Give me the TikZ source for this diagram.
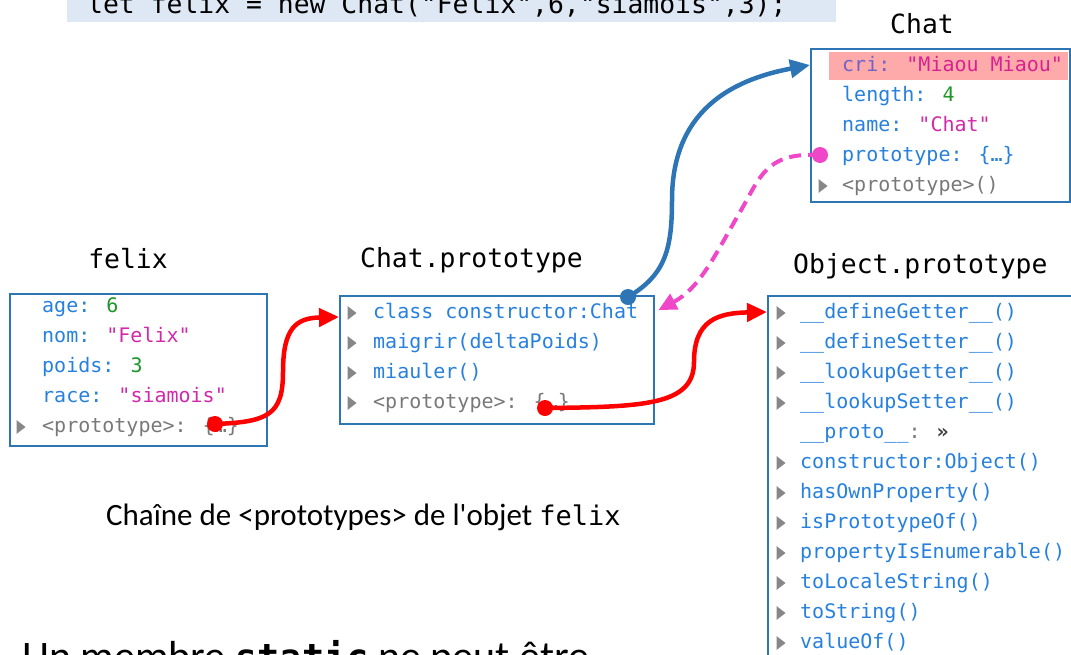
\documentclass[tikz,border=0pt]{standalone}
\usepackage{fontspec}
\setmainfont{Carlito}
\newfontfamily\codefont{DejaVu Sans Mono}
\usetikzlibrary{arrows.meta}

\definecolor{boxblue}{RGB}{46,117,182}
\definecolor{keyblue}{RGB}{38,128,222}
\definecolor{strpink}{RGB}{210,40,170}
\definecolor{numgreen}{RGB}{30,150,40}
\definecolor{protogray}{RGB}{120,120,120}
\definecolor{trigray}{RGB}{135,135,135}
\definecolor{codebg}{RGB}{222,232,244}
\definecolor{hlred}{RGB}{255,170,170}
\definecolor{crikey}{RGB}{110,100,200}
\definecolor{linkred}{RGB}{255,0,0}
\definecolor{linkpink}{RGB}{240,70,200}

\newcommand{\jskey}[1]{\textcolor{keyblue}{#1}}
\newcommand{\jsstr}[1]{\textcolor{strpink}{#1}}
\newcommand{\jsnum}[1]{\textcolor{numgreen}{#1}}
\newcommand{\jsgray}[1]{\textcolor{protogray}{#1}}
% little grey triangle in front of a row
\newcommand{\expander}[2]{\fill[trigray] (#1-4.5,#2-7) -- (#1+4.5,#2) -- (#1-4.5,#2+7) -- cycle;}

\tikzset{
	objbox/.style={draw=boxblue, line width=1.5pt, anchor=north west, inner sep=0pt},
	rowtxt/.style={anchor=base west, inner sep=0pt, font=\codefont\fontsize{20}{20}\selectfont},
	objname/.style={inner sep=0pt, font=\codefont\fontsize{26.4}{26}\selectfont},
	link/.style={line width=4.5pt, -{Triangle[length=20pt,width=18pt]}},
}

\begin{document}
\begin{tikzpicture}[x=1pt, y=-1pt]
	\useasboundingbox (0,0) rectangle (1071,654);
	\clip (0,0) rectangle (1071,654);

	% code line
	\fill[codebg] (67,-40) rectangle (836,22);
	\node[objname, anchor=base west] (code) at (87,13) {let felix = new Chat("Felix",6,"siamois",3);};

	% titles
	\node[objname, anchor=base] (felixname) at (128,268) {felix};
	\node[objname, anchor=base west] (cpname) at (360,267) {Chat.prototype};
	\node[objname, anchor=base west] (opname) at (793,273) {Object.prototype};
	\node[objname, anchor=base] (chatname) at (922,33) {Chat};

	% boxes
	\node[objbox, minimum width=257, minimum height=152] (fxbox) at (9,293) {};
	\node[objbox, minimum width=314, minimum height=128] (cpbox) at (339,295) {};
	\node[objbox, minimum width=259, minimum height=153] (chatbox) at (810,48) {};
	\node[objbox, minimum width=340, minimum height=420] (opbox) at (767,295) {};

	% felix
	\node[rowtxt] (fx1) at (42,312) {\jskey{age:} \jsnum{6}};
	\node[rowtxt] (fx2) at (42,342) {\jskey{nom:} \jsstr{"Felix"}};
	\node[rowtxt] (fx3) at (42,372) {\jskey{poids:} \jsnum{3}};
	\node[rowtxt] (fx4) at (42,402) {\jskey{race:} \jsstr{"siamois"}};
	\node[rowtxt] (fx5) at (42,432) {\jsgray{<prototype>: \{…\}}};
	\expander{21}{427}

	% Chat.prototype
	\node[rowtxt] (cp1) at (373,318) {\jskey{class constructor:Chat}};
	\node[rowtxt] (cp2) at (373,348) {\jskey{maigrir(deltaPoids)}};
	\node[rowtxt] (cp3) at (373,378) {\jskey{miauler()}};
	\node[rowtxt] (cp4) at (373,408) {\jsgray{<prototype>: \{…\}}};
	\foreach \i in {0,...,3}{\expander{352}{313+30*\i}}

	% Chat
	\fill[hlred] (829,52) rectangle (1068,80);
	\node[rowtxt] (ch1) at (842,71) {\textcolor{crikey}{cri:} \textcolor{strpink!85!red}{"Miaou Miaou"}};
	\node[rowtxt] (ch2) at (842,101) {\jskey{length:} \jsnum{4}};
	\node[rowtxt] (ch3) at (842,131) {\jskey{name:} \jsstr{"Chat"}};
	\node[rowtxt] (ch4) at (842,161) {\jskey{prototype: \{…\}}};
	\node[rowtxt] (ch5) at (842,191) {\jsgray{<prototype>()}};
	\expander{823}{186}

	% Object.prototype
	\foreach \txt [count=\i from 0] in {\_\_defineGetter\_\_(),\_\_defineSetter\_\_(),\_\_lookupGetter\_\_(),\_\_lookupSetter\_\_()}{
		\node[rowtxt] (op\i) at (800,318+30*\i) {\jskey{\txt}};
		\expander{781}{313+30*\i}
	}
	\node[rowtxt] (op4) at (800,438) {\jskey{\_\_proto\_\_}\jsgray{: }\textbf{\textcolor{darkgray}{»}}};
	\foreach \txt [count=\i from 5] in {constructor:Object(),hasOwnProperty(),isPrototypeOf(),propertyIsEnumerable(),toLocaleString(),toString(),valueOf()}{
		\node[rowtxt] (op\i) at (800,318+30*\i) {\jskey{\txt}};
		\expander{781}{313+30*\i}
	}

	% links
	\coordinate (fxlink) at (215,424);
	\coordinate (cplink) at (545,408);
	\coordinate (ctorlink) at (628,297);
	\coordinate (protolink) at (820,155);
	\coordinate (cpin) at ([yshift=-22pt]cpbox.north west);
	\coordinate (opin) at ([yshift=-17pt]opbox.north west);
	\coordinate (chatin) at ([yshift=-17pt]chatbox.north west);
	\coordinate (cpback) at ([xshift=4pt,yshift=-15pt]cpbox.north east);

	\draw[link, linkred] (fxlink) .. controls (268,422) and (283,415) .. (283,372)
		.. controls (283,328) and (296,318) .. (cpin);
	\draw[link, linkred] (cplink) .. controls (645,407) and (694,405) .. (694,362)
		.. controls (694,320) and (718,313) .. (opin);
	\draw[link, boxblue] (ctorlink) .. controls (665,275) and (672,250) .. (672,200)
		.. controls (672,112) and (730,80) .. (chatin);
	\draw[link, linkpink, line width=4pt, dash pattern=on 12pt off 7pt,
		-{Triangle[length=18pt,width=17pt]}] (protolink) .. controls (765,152) and (760,178) .. (740,212)
		.. controls (715,255) and (700,288) .. (cpback);
	\fill[linkred] (fxlink) circle[radius=8pt] (cplink) circle[radius=8pt];
	\fill[boxblue] (ctorlink) circle[radius=8pt];
	\fill[linkpink] (protolink) circle[radius=8pt];

	% texts under the diagram
	\node[anchor=base west, inner sep=0pt, font=\fontsize{31}{31}\selectfont] (caption) at (106,525)
		{Chaîne de <prototypes> de l\textquotesingle objet {\codefont\fontsize{27}{27}\selectfont felix}};
	\node[anchor=base west, inner sep=0pt, font=\fontsize{42}{42}\selectfont] (static) at (22,670)
		{Un membre {\codefont\bfseries\fontsize{37}{37}\selectfont static} ne peut être};
\end{tikzpicture}
\end{document}
